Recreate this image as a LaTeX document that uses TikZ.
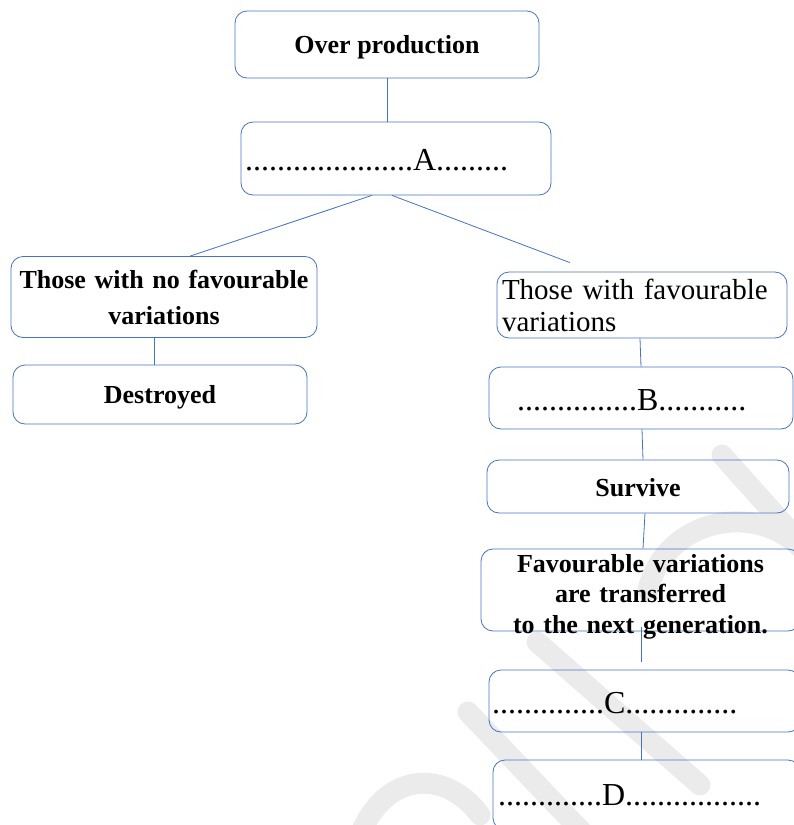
\documentclass[tikz,border=0pt]{standalone}
\usepackage{fontspec}
\setmainfont{Liberation Serif}
\definecolor{boxblue}{HTML}{4472C4}
\definecolor{wmgray}{HTML}{EBEBEB}

\begin{document}
\begin{tikzpicture}[x=1pt,y=-1pt,
        box/.style={draw=boxblue,line width=0.8pt,rounded corners=12pt,inner sep=0pt},
        boldtxt/.style={font={\fontsize{26}{36}\selectfont\bfseries},align=center},
        oneline/.style={text height=18,text depth=0},
        dottxt/.style={font={\fontsize{32}{36}\selectfont},align=left,text height=24.5,text depth=0},
        link/.style={draw=boxblue,line width=0.8pt},
        wmark/.style={draw=wmgray,line width=21pt,line cap=round}]
        \useasboundingbox (0,0) rectangle (794,825);
        \clip (0,0) rectangle (794,825);

        % faint watermark behind the right column
        \draw[wmark] (360,835) .. controls (385,772) and (445,768) .. (480,815);
        \draw[wmark] (468,712) -- (585,835);
        \draw[wmark] (537,642) -- (700,785);
        \draw[wmark] (648,590) .. controls (668,505) and (800,490) .. (830,600);
        \draw[wmark] (722,455) -- (805,548);

        % Top of the chart
        \node[box,boldtxt,oneline,minimum width=304,minimum height=67] (over) at (387,44.5) {Over production};
        \node[box,dottxt,text width=302,inner xsep=4,minimum height=73] (dotsA) at (396,158.5)
            {.....................A.........};

        % Left branch
        \node[box,boldtxt,text width=300,minimum width=306,minimum height=81] (nofav) at (164,297)
            {Those with no favourable\\variations};
        \node[box,boldtxt,oneline,minimum width=294,minimum height=59] (destroyed) at (160,394.5) {Destroyed};

        % Right branch
        \node[box,font={\fontsize{29}{32}\selectfont},align=left,text width=280,inner xsep=5,minimum height=66] (fav) at (642,305)
            {Those with favourable\\variations};
        \node[box,dottxt,text width=248,inner xsep=28,minimum height=62] (dotsB) at (641,398)
            {...............B...........};
        \node[box,boldtxt,text height=20,text depth=0,minimum width=302,minimum height=53] (survive) at (638,486.5) {Survive};
        \node[box,font={\fontsize{26}{30.5}\selectfont\bfseries},align=center,text width=300,inner ysep=-10,minimum width=319,minimum height=82] (transfer) at (640.5,590)
            {\rule{0pt}{31pt}Favourable variations\\are transferred\\to the next generation.};
        \node[box,dottxt,text width=305,inner xsep=3,minimum height=62] (dotsC) at (644.5,701)
            {..............C..............};
        \node[box,dottxt,text width=297,inner xsep=5,minimum height=70,text height=20] (dotsD) at (646.5,795)
            {.............D.................};

        % Connectors
        \draw[link] (over.south) -- (over.south |- dotsA.north);
        \draw[link] ([xshift=-24]dotsA.south) -- ([xshift=26]nofav.north);
        \draw[link] ([xshift=-4]dotsA.south) -- ([shift={(-72,-9)}]fav.north);
        \draw[link] ([xshift=-10]nofav.south) -- ([xshift=-6]destroyed.north);
        \draw[link] ([xshift=-2]fav.south) -- (dotsB.north);
        \draw[link] ([xshift=1]dotsB.south) -- ([xshift=5]survive.north);
        \draw[link] ([xshift=7]survive.south) -- ([xshift=2.5]transfer.north);
        \draw[link] ([shift={(0.5,-4)}]transfer.south) -- ([shift={(-3.5,-8)}]dotsC.north);
        \draw[link] ([xshift=-3.5]dotsC.south) -- ([xshift=-5.5]dotsD.north);
\end{tikzpicture}
\end{document}
